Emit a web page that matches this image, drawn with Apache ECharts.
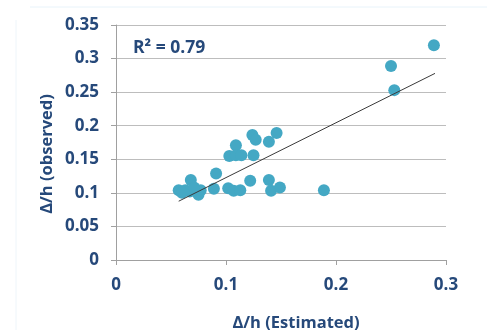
<!DOCTYPE html>
<html>
<head>
<meta charset="utf-8">
<script src="https://cdn.jsdelivr.net/npm/echarts@6/dist/echarts.min.js"></script>
<style>html,body{margin:0;padding:0;background:#fff;}#c{width:487px;height:330px;}</style>
</head>
<body>
<div id="c"></div>
<script>
const estimated = [0.057,0.063,0.068,0.067,0.075,0.077,0.060,0.071,0.089,0.091,0.103,0.109,0.109,0.114,0.102,0.107,0.113,0.122,0.124,0.127,0.125,0.139,0.146,0.139,0.141,0.149,0.189,0.289,0.250,0.253];
const observed  = [0.104,0.104,0.119,0.102,0.097,0.104,0.100,0.108,0.106,0.129,0.155,0.171,0.156,0.156,0.107,0.103,0.104,0.118,0.186,0.179,0.156,0.176,0.189,0.119,0.103,0.108,0.104,0.320,0.289,0.253];
const trendSlope = 0.817;
const trendIntercept = 0.041;
const trendRange = [0.057, 0.29];
const rSquaredLabel = 'R² = 0.79';
const xName = 'Δ/h (Estimated)';
const yName = 'Δ/h (observed)';

const pts = estimated.map((x, i) => [x, observed[i]]);
const trend = trendRange.map(x => [x, trendIntercept + trendSlope * x]);
const txt = '#26497a';
const font = '"Open Sans", sans-serif';

const chart = echarts.init(document.getElementById('c'), null, {renderer: 'canvas'});
chart.setOption({
  animation: false,
  backgroundColor: '#fff',
  grid: {left: 116, right: 41, top: 25, bottom: 70, containLabel: false},
  xAxis: {
    type: 'value', min: 0, max: 0.3, interval: 0.1,
    axisLine: {show: true, lineStyle: {color: '#a0a0a0', width: 1}},
    axisTick: {show: true, length: 5, lineStyle: {color: '#a0a0a0'}},
    splitLine: {show: false},
    axisLabel: {color: txt, fontFamily: font, fontWeight: 'bold', fontSize: 17, margin: 17,
      formatter: v => String(+v.toFixed(2))}
  },
  yAxis: {
    type: 'value', min: 0, max: 0.35, interval: 0.05,
    axisLine: {show: true, lineStyle: {color: '#a0a0a0', width: 1}},
    axisTick: {show: true, length: 5, lineStyle: {color: '#a0a0a0'}},
    splitLine: {show: true, lineStyle: {color: '#bdbdbd', width: 1}},
    axisLabel: {color: txt, fontFamily: font, fontWeight: 'bold', fontSize: 17, margin: 17,
      formatter: v => String(+v.toFixed(2))}
  },
  graphic: [
    {type: 'line', shape: {x1: 30, y1: 7, x2: 487, y2: 7}, style: {stroke: '#e8f3fa', lineWidth: 1}, silent: true},
    {type: 'line', shape: {x1: 16, y1: 20, x2: 16, y2: 330}, style: {stroke: '#eef5fa', lineWidth: 1}, silent: true},
    {type: 'text', x: 47, y: 154, rotation: Math.PI / 2,
      style: {text: yName, fill: txt, font: 'bold 16.5px ' + font, textAlign: 'center', textVerticalAlign: 'middle'}},
    {type: 'text', x: 296, y: 323,
      style: {text: xName, fill: txt, font: 'bold 16.5px ' + font, textAlign: 'center', textVerticalAlign: 'middle'}},
    {type: 'text', x: 133, y: 48,
      style: {text: rSquaredLabel, fill: txt, font: 'bold 17.5px ' + font, textAlign: 'left', textVerticalAlign: 'middle'}}
  ],
  series: [
    {type: 'line', data: trend, symbol: 'none', lineStyle: {color: '#3a3a3a', width: 1}, z: 3, silent: true},
    {type: 'scatter', data: pts, symbolSize: 12, itemStyle: {color: '#44a8c4', opacity: 1}, z: 2}
  ]
});
</script>
</body>
</html>
